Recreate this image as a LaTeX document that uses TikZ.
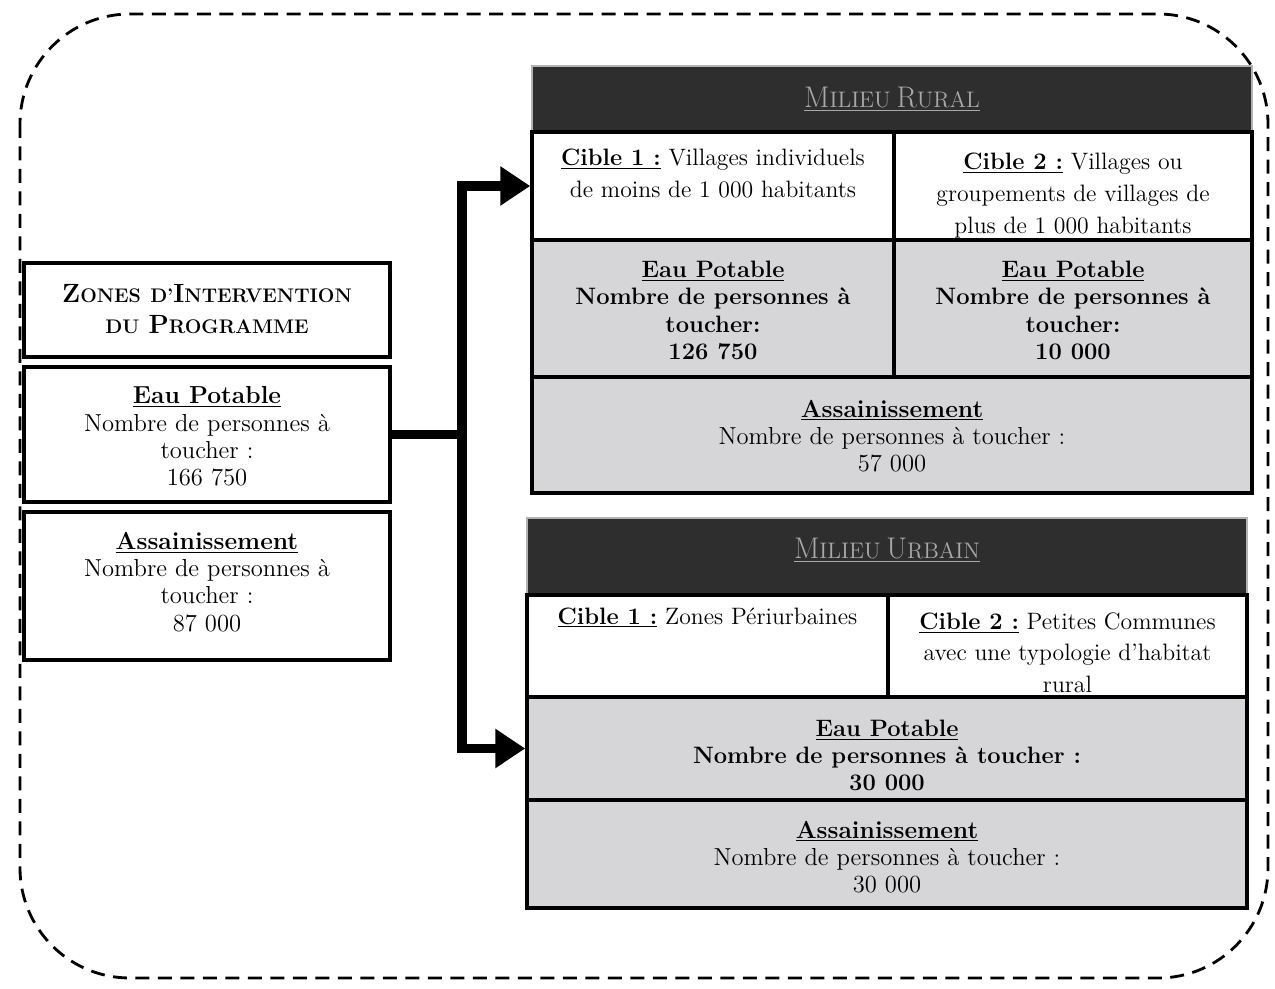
\documentclass[tikz,border=0pt]{standalone}
\usetikzlibrary{arrows.meta,fit,positioning}

\definecolor{cellgray}{HTML}{D6D6D9}
\definecolor{bardark}{HTML}{2E2E2E}
\definecolor{bartext}{HTML}{A8A8A8}

\newcommand{\hd}[1]{\underline{\textbf{#1}}}
\newcommand{\fsc}[2]{{\fontsize{15}{15}\selectfont #1}{\fontsize{11.2}{12}\selectfont #2}}
\newcommand{\hsc}[2]{{\fontsize{17}{17}\selectfont #1}{\fontsize{12.8}{13}\selectfont #2}}

\tikzset{
  cell/.style={draw,line width=2pt,inner sep=0pt},
  greycell/.style={cell,fill=cellgray},
  bar/.style={fill=bardark,draw=gray!60,line width=0.6pt,inner sep=0pt},
  txt/.style={align=center,font=\fontsize{14}{15.5}\selectfont},
  btxt/.style={align=center,font=\fontsize{13.5}{15.5}\selectfont\bfseries},
  ctxt/.style={align=center,font=\fontsize{13.5}{18}\selectfont},
  ttxt/.style={align=center,font=\fontsize{14}{18}\selectfont\bfseries},
  conn/.style={line width=5.5pt,-{Triangle[length=0.6cm,width=0.75cm]}},
  dashframe/.style={line width=1.6pt,dash pattern=on 0.28cm off 0.17cm,rounded corners=2.2cm},
}

\begin{document}
\begin{tikzpicture}[x=0.02cm,y=-0.02cm]

  \useasboundingbox (0,0) rectangle (1275,989);
  \draw[dashframe] (20,14) rectangle (1268,978);

  % left column
  \node[cell,fit={(24,263) (390,357)}] (title) {};
  \node[ttxt] (titlet) at ([yshift=0.02cm]title.center)
    {\fsc{Z}{ONES} {\fontsize{11.2}{12}\selectfont D’}\fsc{I}{NTERVENTION}\\
     {\fontsize{11.2}{12}\selectfont DU} \fsc{P}{ROGRAMME}};
  \node[cell,fit={(24,367) (390,502)}] (leau) {};
  \node[txt] (leaut) at ([yshift=-0.04cm]leau.center)
    {\hd{Eau Potable}\\Nombre de personnes à\\toucher :\\166 750};
  \node[cell,fit={(24,512) (390,660)}] (lass) {};
  \node[txt] (lasst) at ([yshift=0.08cm]lass.center)
    {\hd{Assainissement}\\Nombre de personnes à\\toucher :\\87 000};

  % milieu rural
  \node[bar,fit={(532,66) (1252,132)}] (rbar) {};
  \node[text=bartext] (rbart) at (rbar.center)
    {\underline{\hsc{M}{ILIEU} \hsc{R}{URAL}}};
  \node[cell,fit={(532,132) (894,240)}] (rc1) {};
  \node[cell,fit={(894,132) (1252,240)}] (rc2) {};
  \node[ctxt,below=0.26cm of rc1.north] (rc1t)
    {\hd{Cible 1 :} Villages individuels\\de moins de 1 000 habitants};
  \node[ctxt,below=0.34cm of rc2.north] (rc2t)
    {\hd{Cible 2 :} Villages ou\\groupements de villages de\\plus de 1 000 habitants};
  \node[greycell,fit={(532,240) (894,377)}] (re1) {};
  \node[btxt] (re1t) at ([yshift=-0.04cm]re1.center)
    {\hd{Eau Potable}\\Nombre de personnes à\\toucher:\\126 750};
  \node[greycell,fit={(894,240) (1252,377)}] (re2) {};
  \node[btxt] (re2t) at ([yshift=-0.04cm]re2.center)
    {\hd{Eau Potable}\\Nombre de personnes à\\toucher:\\10 000};
  \node[greycell,fit={(532,377) (1252,493)}] (ra) {};
  \node[txt] (rat) at ([yshift=-0.02cm]ra.center)
    {\hd{Assainissement}\\Nombre de personnes à toucher :\\57 000};

  % milieu urbain
  \node[bar,fit={(527,518) (1247,595)}] (ubar) {};
  \node[text=bartext] (ubart) at ([yshift=0.12cm]ubar.center)
    {\underline{\hsc{M}{ILIEU} \hsc{U}{RBAIN}}};
  \node[cell,fit={(527,595) (888,697)}] (uc1) {};
  \node[cell,fit={(888,595) (1247,697)}] (uc2) {};
  \node[ctxt,below=0.16cm of uc1.north] (uc1t)
    {\hd{Cible 1 :} Zones Périurbaines};
  \node[ctxt,below=0.26cm of uc2.north] (uc2t)
    {\hd{Cible 2 :} Petites Communes\\avec une typologie d’habitat\\rural};
  \node[greycell,fit={(527,697) (1247,800)}] (ue) {};
  \node[btxt] (uet) at ([yshift=-0.14cm]ue.center)
    {\hd{Eau Potable}\\Nombre de personnes à toucher :\\30 000};
  \node[greycell,fit={(527,800) (1247,908)}] (ua) {};
  \node[txt] (uat) at ([yshift=-0.06cm]ua.center)
    {\hd{Assainissement}\\Nombre de personnes à toucher :\\30 000};

  % connectors
  \path (leau.east) -- ++(70,0) coordinate (jn);
  \draw[conn] (leau.east) -- (jn) |- (rc1.west);
  \draw[conn] (jn) |- (ue.west);

\end{tikzpicture}
\end{document}
